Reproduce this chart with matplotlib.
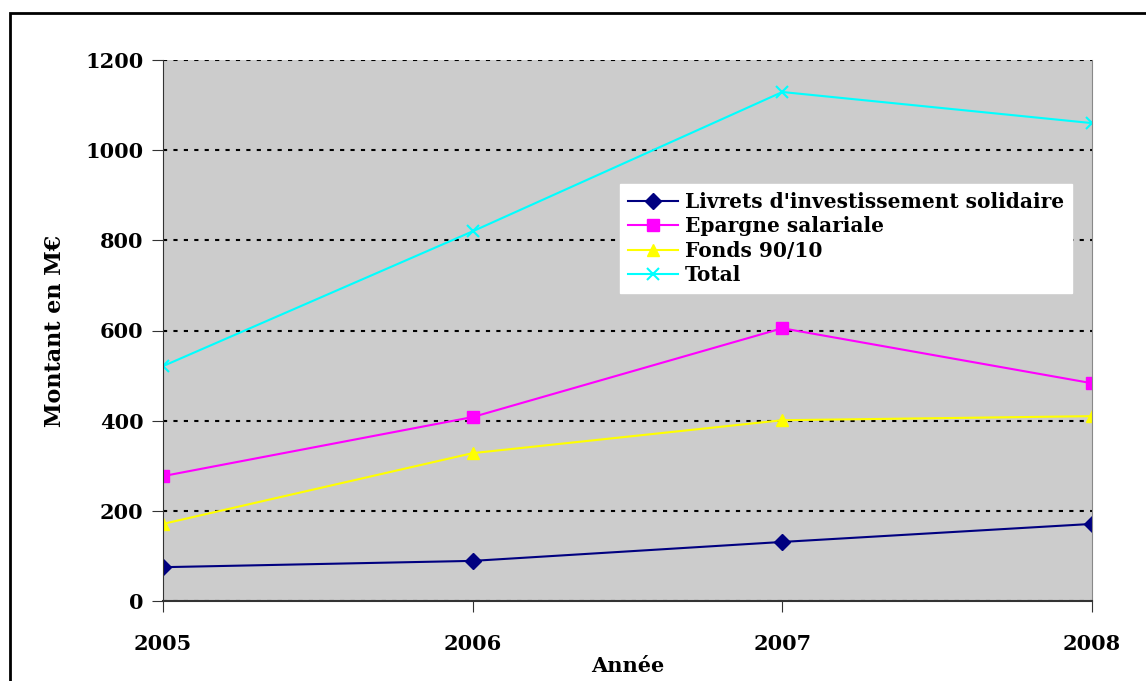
import matplotlib
matplotlib.use('Agg')
import matplotlib.pyplot as plt
from matplotlib.patches import Rectangle

plt.rcParams['font.family'] = ['DejaVu Serif']
plt.rcParams['font.weight'] = 'bold'

years = [2005, 2006, 2007, 2008]
livrets = [75, 89, 131, 171]
epargne = [277, 408, 605, 483]
fonds = [171, 328, 401, 410]
total = [521, 820, 1129, 1060]

labels = ["Livrets d'investissement solidaire", "Epargne salariale", "Fonds 90/10", "Total"]

fig = plt.figure(figsize=(11.46, 6.81), dpi=100)
ax = fig.add_axes([163/1146, 1-601/681, (1092-163)/1146, (601-60)/681])
ax.set_facecolor('#cccccc')

# cadre autour du graphique
fig.patches.append(Rectangle((10/1146, -0.05), 1.2, 1.05-13/681, transform=fig.transFigure,
                             fill=False, edgecolor='black', linewidth=2, zorder=0))

ax.plot(years, livrets, color='#000080', marker='D', markersize=8, linewidth=1.5, label=labels[0])
ax.plot(years, epargne, color='#ff00ff', marker='s', markersize=8, linewidth=1.5, label=labels[1])
ax.plot(years, fonds, color='#ffff00', marker='^', markersize=9, linewidth=1.5, label=labels[2])
ax.plot(years, total, color='#00ffff', marker='x', markersize=9, markeredgewidth=1.5, linewidth=1.5, label=labels[3])

ax.set_xlim(2005, 2008)
ax.set_ylim(0, 1200)
ax.set_xticks(years)
ax.set_yticks(range(0, 1201, 200))
ax.yaxis.grid(True, color='black', linestyle=(0, (2, 3)), linewidth=1.5)
ax.set_axisbelow(True)

ax.spines['top'].set_visible(False)
ax.spines['right'].set_color('#888888')
ax.spines['left'].set_color('#333333')
ax.spines['bottom'].set_color('#333333')
ax.spines['bottom'].set_linewidth(1.5)
ax.tick_params(axis='both', labelsize=15, direction='out', length=8, color='#333333')
ax.tick_params(axis='x', pad=16)
ax.tick_params(axis='y', pad=6)
for t in ax.get_xticklabels() + ax.get_yticklabels():
    t.set_fontweight('bold')

ax.set_ylabel('Montant en M€', fontsize=16, fontweight='bold', labelpad=14)
ax.set_xlabel('Année', fontsize=15, fontweight='bold', labelpad=1)

leg = ax.legend(loc='upper left', bbox_to_anchor=(0.492, 0.771), fontsize=14.5, frameon=True,
                fancybox=False, framealpha=1, edgecolor='white', borderpad=0.4,
                labelspacing=0.22, handlelength=2.5, handletextpad=0.3, borderaxespad=0)
for t in leg.get_texts():
    t.set_fontweight('bold')

fig.savefig('out.png', dpi=100)
